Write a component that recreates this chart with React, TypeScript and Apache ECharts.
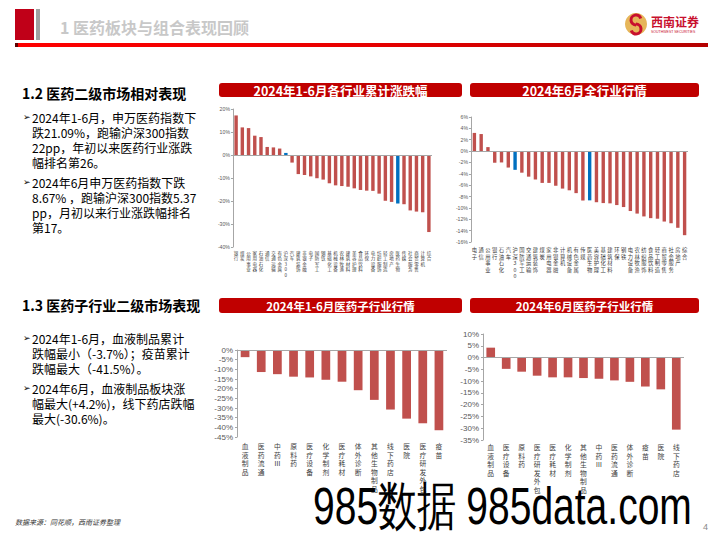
import { useEffect, useRef } from 'react';
import * as echarts from 'echarts';

// ---------- data ----------
const indCats1 = ['银行','煤炭','公用事业','家用电器','石油石化','通信','交通运输','有色金属','沪深300','汽车','建筑装饰','非银金融','电子','国防军工','钢铁','基础化工','机械设备','农林牧渔','建筑材料','美容护理','食品饮料','环保','电力设备','纺织服饰','轻工制造','房地产','医药生物','传媒','社会服务','商贸零售','计算机','综合'];
const indVals1 = [17.2,12.0,11.7,8.4,7.8,3.5,3.3,2.8,0.9,-3.3,-8.3,-8.7,-9.3,-10.1,-10.7,-12.3,-13.2,-13.5,-13.8,-14.5,-15.2,-15.5,-15.6,-16.8,-19.9,-20.4,-21.09,-21.4,-24.1,-24.6,-24.9,-33.5];

const indCats2 = ['电子','通信','公用事业','银行','石油石化','汽车','沪深300','国防军工','交通运输','建筑装饰','煤炭','家用电器','非银金融','计算机','机械设备','有色金属','传媒','医药生物','美容护理','基础化工','建筑材料','环保','钢铁','电力设备','农林牧渔','纺织服饰','食品饮料','轻工制造','商贸零售','社会服务','房地产','综合'];
const indVals2 = [3.2,3.0,0.7,-2.05,-2.0,-2.9,-3.3,-3.8,-4.5,-5.0,-5.6,-5.6,-6.1,-6.6,-6.9,-7.4,-8.7,-8.67,-9.0,-9.15,-9.2,-9.5,-9.85,-10.55,-11.0,-11.5,-11.8,-11.9,-12.4,-12.7,-13.5,-14.8];

const subCats1 = ['血液制品','医药流通','中药Ⅲ','原料药','医疗设备','化学制剂','医疗耗材','体外诊断','其他生物制品','线下药店','医院','医疗研发外包','疫苗'];
const subVals1 = [-3.7,-11.4,-12.5,-13.8,-14.2,-15.4,-16.4,-20.8,-25.8,-30.8,-35.5,-37.9,-41.5];

const subCats2 = ['血液制品','医疗设备','原料药','医疗研发外包','医疗耗材','化学制剂','其他生物制品','中药Ⅲ','医药流通','体外诊断','疫苗','医院','线下药店'];
const subVals2 = [4.2,-4.8,-6.0,-7.7,-8.4,-8.4,-8.7,-9.0,-9.7,-10.3,-12.3,-13.5,-30.6];

const highlightCats = ['沪深300','医药生物'];

const chartTitles = ['2024年1-6月各行业累计涨跌幅','2024年6月全行业行情','2024年1-6月医药子行业行情','2024年6月医药子行业行情'];

const bullets12 = ['2024年1-6月，申万医药指数下','跌21.09%，跑输沪深300指数','22pp，年初以来医药行业涨跌','幅排名第26。'];
const bullets12b = ['2024年6月申万医药指数下跌','8.67% ，跑输沪深300指数5.37','pp，月初以来行业涨跌幅排名','第17。'];
const bullets13 = ['2024年1-6月，血液制品累计','跌幅最小（-3.7%）；疫苗累计','跌幅最大（-41.5%）。'];
const bullets13b = ['2024年6月，血液制品板块涨','幅最大(+4.2%)，线下药店跌幅','最大(-30.6%)。'];

const RED = '#C0504D';
const BLUE = '#0070C0';
const AXIS = '#a6a6a6';
const CJK = '"Noto Sans CJK SC", "Noto Sans", sans-serif';
const NUM = '"Liberation Sans", Arial, sans-serif';

const vert = (s: string) => s.split('').join('\n');

export default function App() {
  const ref = useRef<HTMLDivElement>(null);
  useEffect(() => {
    if (!ref.current) return;
    const chart = echarts.init(ref.current, undefined, { renderer: 'svg' });

    const grids = [
      { left: 233, top: 109, width: 199, height: 138 },
      { left: 471, top: 117, width: 217, height: 125 },
      { left: 237, top: 350, width: 210, height: 87 },
      { left: 483, top: 334, width: 201, height: 106 },
    ];
    const cats = [indCats1, indCats2, subCats1, subCats2];
    const vals = [indVals1, indVals2, subVals1, subVals2];
    const yr = [
      { min: -40, max: 20, interval: 10 },
      { min: -16, max: 6, interval: 2 },
      { min: -45, max: 0, interval: 5 },
      { min: -35, max: 10, interval: 5 },
    ];
    const yFont = [5.2, 5.2, 8, 8];
    const xFont = [4.5, 5.3, 6.8, 6.8];
    const xLH = [5.5, 6.5, 8.5, 8.5];
    const xMargin = [3, 5, 5, 3];
    const bw = ['55%', '50%', '54%', '56%'];

    const makeText = (x: number, y: number, text: string, o: any = {}) => ({
      type: 'text', x, y, silent: true,
      style: {
        text, fill: o.fill || '#000', fontSize: o.fontSize || 12,
        fontFamily: o.fontFamily || CJK, fontWeight: o.fontWeight || 'normal',
        fontStyle: o.fontStyle || 'normal',
        align: o.align || 'left', textAlign: o.align || 'left',
        verticalAlign: o.va || 'middle', textVerticalAlign: o.va || 'middle',
      },
      ...(o.extra || {}),
    });

    const graphics: any[] = [];
    // header
    graphics.push({ type: 'rect', shape: { x: 15, y: 9, width: 19, height: 31 }, style: { fill: '#C00018' }, silent: true });
    graphics.push({ type: 'rect', shape: { x: 36, y: 9, width: 4, height: 31 }, style: { fill: '#a0a0a0' }, silent: true });
    graphics.push(makeText(60, 27, '1 医药板块与组合表现回顾', { fontSize: 16, fontWeight: 'bold', fill: '#c8c8c8' }));
    graphics.push({
      type: 'rect', shape: { x: 15, y: 43, width: 693, height: 4 }, silent: true,
      style: { fill: new echarts.graphic.LinearGradient(0, 0, 1, 0, [
        { offset: 0, color: '#ff0000' }, { offset: 0.5, color: '#e80000' }, { offset: 1, color: '#b40000' }]) },
    });
    graphics.push({ type: 'rect', shape: { x: 15, y: 43, width: 3, height: 4 }, style: { fill: '#600000' }, silent: true });
    // logo
    graphics.push({ type: 'circle', shape: { cx: 636, cy: 24, r: 11 }, style: { fill: '#E6B65A' }, silent: true });
    graphics.push({ type: 'arc', shape: { cx: 636, cy: 20, r: 5, startAngle: Math.PI * 0.5, endAngle: Math.PI * 1.9 }, style: { stroke: '#C8102E', lineWidth: 3, fill: 'none' }, silent: true });
    graphics.push({ type: 'arc', shape: { cx: 636, cy: 29, r: 5, startAngle: -Math.PI * 0.5, endAngle: Math.PI * 0.9 }, style: { stroke: '#C8102E', lineWidth: 3, fill: 'none' }, silent: true });
    graphics.push(makeText(651, 21, '西南证券', { fontSize: 12, fontWeight: 'bold', fill: '#C8102E' }));
    graphics.push(makeText(651, 32, 'SOUTHWEST SECURITIES', { fontSize: 3.5, fontFamily: NUM, fill: '#C8102E' }));

    // section titles
    graphics.push(makeText(22, 93, '1.2 医药二级市场相对表现', { fontSize: 14, fontWeight: 'bold' }));
    graphics.push(makeText(22, 305, '1.3 医药子行业二级市场表现', { fontSize: 14, fontWeight: 'bold' }));

    const addBullet = (lines: string[], y0: number) => {
      graphics.push(makeText(23, y0, '➢', { fontSize: 9, fontFamily: '"DejaVu Sans", sans-serif' }));
      lines.forEach((l, i) => graphics.push(makeText(32, y0 + i * 15, l, { fontSize: 12 })));
    };
    addBullet(bullets12, 117);
    addBullet(bullets12b, 182);
    addBullet(bullets13, 338);
    addBullet(bullets13b, 388);

    // chart title bars
    const bars = [
      { x: 219, y: 83, w: 243, h: 14 },
      { x: 470, y: 83, w: 229, h: 14 },
      { x: 219, y: 298, w: 243, h: 15 },
      { x: 470, y: 298, w: 229, h: 15 },
    ];
    bars.forEach((b, i) => {
      graphics.push({ type: 'rect', shape: { x: b.x, y: b.y, width: b.w, height: b.h, r: 3 }, style: { fill: '#C00000' }, silent: true });
      graphics.push(makeText(b.x + b.w / 2, b.y + b.h / 2, chartTitles[i], { fontSize: i < 2 ? 12.5 : 11.5, fontWeight: 'bold', fill: '#fff', align: 'center' }));
    });

    // footer
    graphics.push(makeText(15, 522, '数据来源：同花顺，西南证券整理', { fontSize: 7, fontStyle: 'italic', fill: '#333' }));
    graphics.push(makeText(703, 527, '4', { fontSize: 9, fontFamily: NUM, fill: '#888' }));
    // watermark
    graphics.push({
      type: 'text', x: 313, y: 532, scaleY: 1.35, silent: true, z: 100,
      style: { text: '985数据 985data.com', fill: '#000', fontSize: 39, fontFamily: NUM,
        align: 'left', textAlign: 'left', verticalAlign: 'bottom', textVerticalAlign: 'bottom' },
    });

    const option: any = {
      animation: false,
      backgroundColor: '#fff',
      grid: grids,
      xAxis: cats.map((c, i) => ({
        type: 'category', gridIndex: i, data: c,
        axisLine: { show: false }, axisTick: { show: false },
        axisLabel: {
          interval: 0, formatter: vert, fontSize: xFont[i], lineHeight: xLH[i],
          color: '#404040', margin: xMargin[i], fontFamily: CJK, verticalAlign: 'top',
        },
      })),
      yAxis: yr.map((r, i) => ({
        type: 'value', gridIndex: i, min: r.min, max: r.max, interval: r.interval,
        axisLine: { show: true, lineStyle: { color: AXIS } },
        axisTick: { show: true, length: 2, lineStyle: { color: AXIS } },
        splitLine: { show: false },
        axisLabel: { formatter: '{value}%', fontSize: yFont[i], color: '#595959', margin: i < 2 ? 3 : 4, fontFamily: NUM },
      })),
      series: vals.map((v, i) => ({
        type: 'bar', xAxisIndex: i, yAxisIndex: i, barWidth: bw[i],
        itemStyle: { color: RED },
        data: v.map((val, j) => (i < 2 && highlightCats.includes(cats[i][j]))
          ? { value: val, itemStyle: { color: BLUE } } : val),
        markLine: {
          silent: true, symbol: ['none', 'none'], label: { show: false },
          lineStyle: { color: AXIS, width: 1, type: 'solid' },
          data: [{ yAxis: 0 }],
        },
      })),
      graphic: { elements: graphics },
    };
    chart.setOption(option);
    return () => chart.dispose();
  }, []);
  return (
    <div ref={ref} style={{ position: 'absolute', left: 0, top: 0, width: 720, height: 540, background: '#fff' }} />
  );
}
